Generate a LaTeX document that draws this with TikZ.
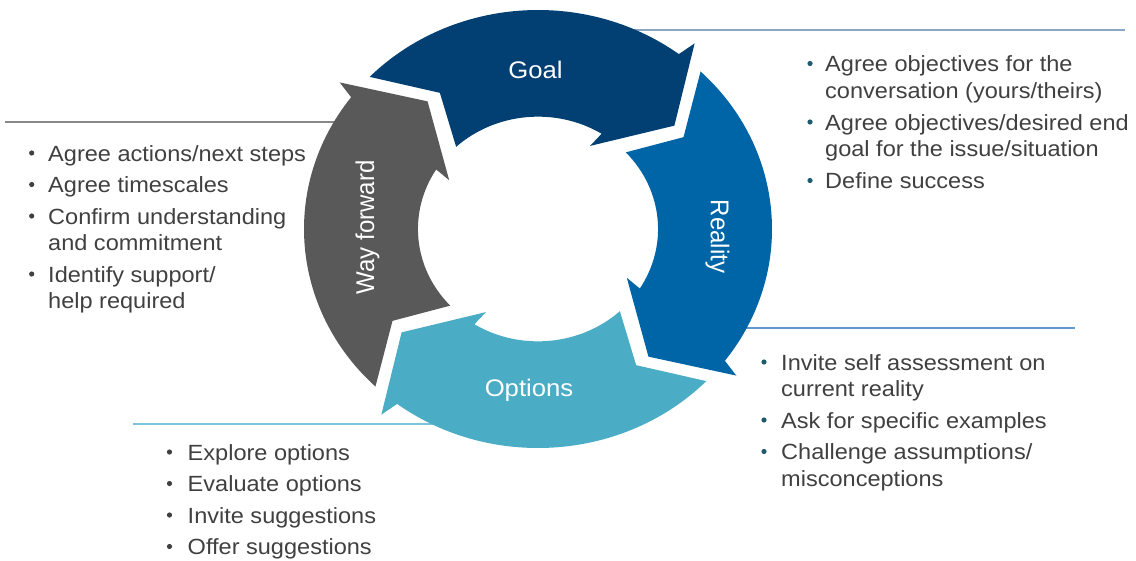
\documentclass[tikz,border=0pt]{standalone}
\usepackage{fontspec}
\setmainfont{Liberation Sans}

\definecolor{goalblue}{RGB}{2,63,114}
\definecolor{realityblue}{RGB}{0,101,166}
\definecolor{optionsteal}{RGB}{75,172,198}
\definecolor{waygray}{RGB}{89,89,89}
\definecolor{bodygray}{RGB}{64,64,64}
\definecolor{dotteal}{RGB}{31,92,107}
\definecolor{ruleslate}{RGB}{140,167,194}
\definecolor{rulegray}{RGB}{136,136,136}
\definecolor{ruleblue}{RGB}{96,152,202}
\definecolor{ruleteal}{RGB}{124,197,216}

% One curved arrow of the ring, drawn in unit-ring coordinates.
% #1 = rotation offset in degrees, #2 = fill colour
\newcommand\ringarrow[2]{%
  \fill[#2] ({#1+136}:1) arc[start angle={#1+136}, end angle={#1+53}, radius=1]
    -- ({#1+51.7}:1.08) -- ({#1+39}:0.75) -- ({#1+59.6}:0.44) -- ({#1+58}:0.513)
    arc[start angle={#1+58}, end angle={#1+133}, radius=0.513]
    -- ({#1+124}:0.75) -- cycle;}

\begin{document}
\begin{tikzpicture}[x=1pt, y=-1pt,
  ringlabel/.style={font=\fontsize{24}{28}\selectfont, text=white, inner sep=0pt, xscale=1.07},
  itemtext/.style={font=\fontsize{22}{26}\selectfont, text=bodygray, inner sep=0pt,
    anchor=base west, xscale=1.07},
  bulletdot/.style={circle, fill=#1, inner sep=0pt, minimum size=5.2pt},
  rule/.style={draw=#1, line width=1.2pt}
]
\useasboundingbox (0,0) rectangle (1136,560);

% separator rules behind the ring
\coordinate (r1a) at (620,30);  \coordinate (r1b) at (1125,30);
\coordinate (r2a) at (5,122);   \coordinate (r2b) at (360,122);
\coordinate (r3a) at (720,328); \coordinate (r3b) at (1075,328);
\coordinate (r4a) at (133,424); \coordinate (r4b) at (440,424);
\draw[rule=ruleslate] (r1a) -- (r1b);
\draw[rule=rulegray]  (r2a) -- (r2b);
\draw[rule=ruleblue]  (r3a) -- (r3b);
\draw[rule=ruleteal]  (r4a) -- (r4b);

% the ring of four arrows
\begin{scope}[shift={(538,229)}, x=234pt, y=219pt]
  \ringarrow{0}{goalblue}
  \ringarrow{-90}{realityblue}
  \ringarrow{-180}{optionsteal}
  \ringarrow{90}{waygray}
\end{scope}

% arrow labels
\node[ringlabel, anchor=base] (goal) at (535.5,78.3) {Goal};
\node[ringlabel, rotate=-90] (reality) at (717.5,236.5) {Reality};
\node[ringlabel, anchor=base] (options) at (529,396.7) {Options};
\node[ringlabel, rotate=90] (way) at (367.5,227.5) {Way forward};

% Goal notes
\node[bulletdot=dotteal] (gd1) at (810,63.5) {};
\node[itemtext] (gt1a) at (825,71.5) {Agree objectives for the};
\node[itemtext] (gt1b) at (825,98) {conversation (yours/theirs)};
\node[bulletdot=dotteal] (gd2) at (810,122) {};
\node[itemtext] (gt2a) at (825,130) {Agree objectives/desired end};
\node[itemtext] (gt2b) at (825,156.5) {goal for the issue/situation};
\node[bulletdot=dotteal] (gd3) at (810,180.5) {};
\node[itemtext] (gt3) at (825,188.5) {Define success};

% Way forward notes
\node[bulletdot=bodygray] (wd1) at (31.7,153) {};
\node[itemtext] (wt1) at (48,161) {Agree actions/next steps};
\node[bulletdot=bodygray] (wd2) at (31.7,184.5) {};
\node[itemtext] (wt2) at (48,192.5) {Agree timescales};
\node[bulletdot=bodygray] (wd3) at (31.7,216) {};
\node[itemtext] (wt3a) at (48,224) {Confirm understanding};
\node[itemtext] (wt3b) at (48,250.5) {and commitment};
\node[bulletdot=bodygray] (wd4) at (31.7,274) {};
\node[itemtext] (wt4a) at (48,282) {Identify support/};
\node[itemtext] (wt4b) at (48,308.5) {help required};

% Reality notes
\node[bulletdot=dotteal] (rd1) at (764,362) {};
\node[itemtext] (rt1a) at (781,370) {Invite self assessment on};
\node[itemtext] (rt1b) at (781,396.5) {current reality};
\node[bulletdot=dotteal] (rd2) at (764,420) {};
\node[itemtext] (rt2) at (781,428) {Ask for specific examples};
\node[bulletdot=dotteal] (rd3) at (764,451.5) {};
\node[itemtext] (rt3a) at (781,459.5) {Challenge assumptions/};
\node[itemtext] (rt3b) at (781,486) {misconceptions};

% Options notes
\node[bulletdot=bodygray] (od1) at (169.5,452) {};
\node[itemtext] (ot1) at (187.5,460) {Explore options};
\node[bulletdot=bodygray] (od2) at (169.5,483.5) {};
\node[itemtext] (ot2) at (187.5,491.5) {Evaluate options};
\node[bulletdot=bodygray] (od3) at (169.5,515) {};
\node[itemtext] (ot3) at (187.5,523) {Invite suggestions};
\node[bulletdot=bodygray] (od4) at (169.5,546.5) {};
\node[itemtext] (ot4) at (187.5,554.5) {Offer suggestions};
\end{tikzpicture}
\end{document}
